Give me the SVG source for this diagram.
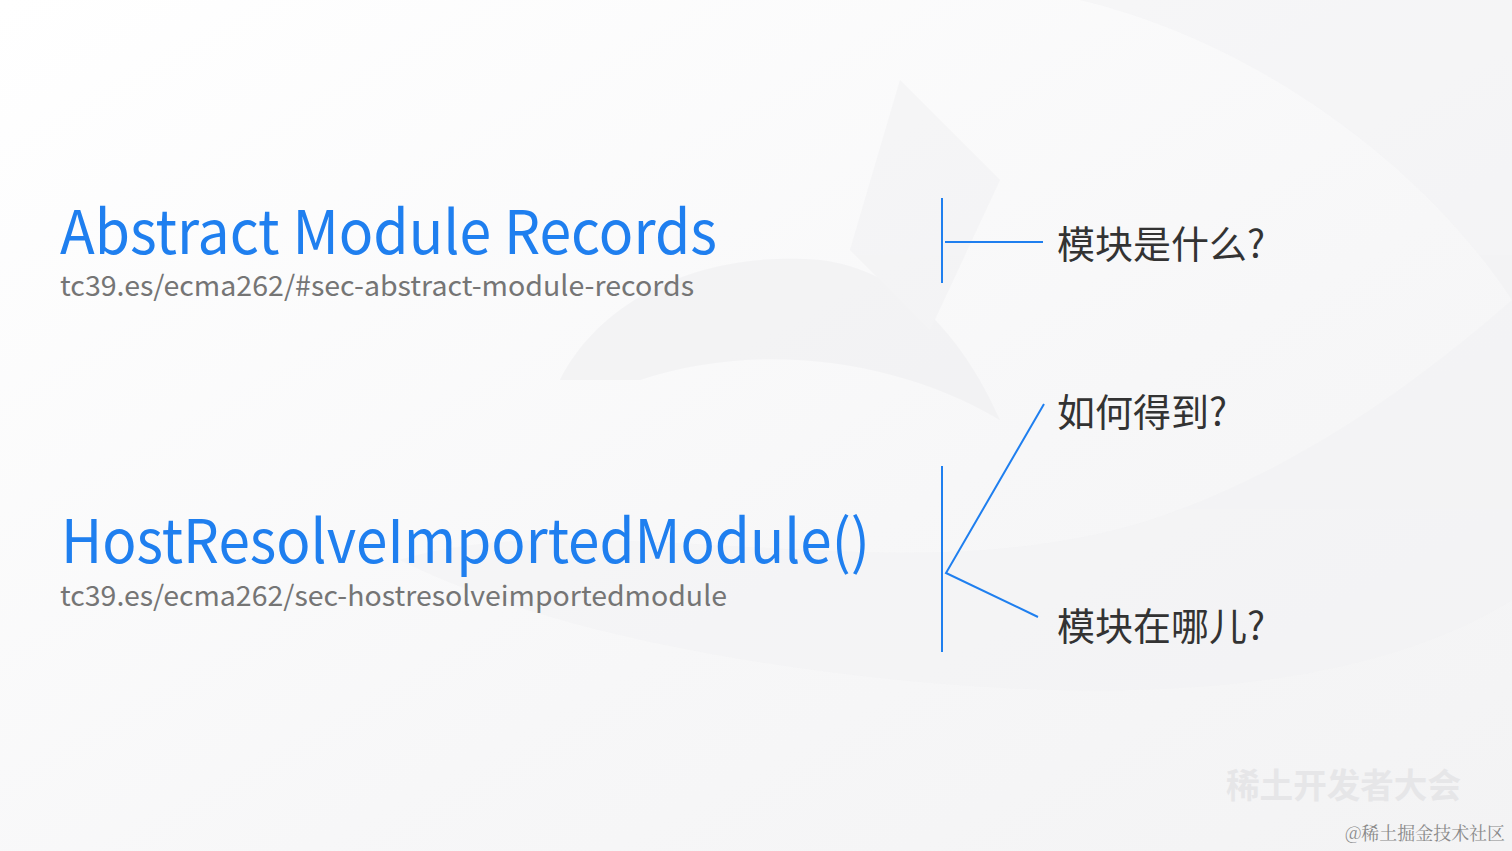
<svg xmlns="http://www.w3.org/2000/svg" width="1512" height="851" viewBox="0 0 1512 851">
<style>
.title{font-family:"Noto Sans CJK SC","Noto Sans",sans-serif;font-size:60px;fill:#1F7FEF}
.sub{font-family:"Noto Sans CJK SC","Noto Sans",sans-serif;font-size:28px;fill:#757575}
.q{font-family:"Noto Sans CJK SC",sans-serif;font-size:38px;fill:#333}
.ln{stroke:#1F7FEF;stroke-width:2;fill:none}
</style>
<defs>
<linearGradient id="bg" x1="0" y1="0" x2="1" y2="1">
<stop offset="0" stop-color="#ffffff"/>
<stop offset="0.6" stop-color="#f7f7f8"/>
<stop offset="1" stop-color="#f3f3f4"/>
</linearGradient>
</defs>
<rect width="1512" height="851" fill="url(#bg)"/>
<g id="background" opacity="0.5">
<path d="M560 380 C600 300 700 250 820 260 C900 270 960 330 1000 420 C900 360 760 340 640 380 Z" fill="#eeeef0"/>
<path d="M900 80 L1000 180 L930 330 L850 250 Z" fill="#f0f0f2"/>
<path d="M1080 0 C1250 40 1420 160 1512 300 L1512 0 Z" fill="#f1f1f3"/>
<path d="M400 560 C600 500 900 600 1150 520 C1300 470 1420 380 1512 300 L1512 600 C1350 700 1100 700 900 680 C700 660 520 620 400 560 Z" fill="#f2f2f4"/>
</g>
<g id="node-abstract">
<text class="title" x="60" y="254" textLength="657" lengthAdjust="spacingAndGlyphs">Abstract Module Records</text>
<text class="sub" x="60" y="296" textLength="634" lengthAdjust="spacingAndGlyphs">tc39.es/ecma262/#sec-abstract-module-records</text>
</g>
<g id="node-host">
<text class="title" x="61" y="563" textLength="809" lengthAdjust="spacingAndGlyphs">HostResolveImportedModule()</text>
<text class="sub" x="60" y="606" textLength="667" lengthAdjust="spacingAndGlyphs">tc39.es/ecma262/sec-hostresolveimportedmodule</text>
</g>
<g id="node-q1">
<text class="q" x="1057" y="258" textLength="208" lengthAdjust="spacingAndGlyphs">模块是什么?</text>
</g>
<g id="node-q2">
<text class="q" x="1057" y="426" textLength="170" lengthAdjust="spacingAndGlyphs">如何得到?</text>
</g>
<g id="node-q3">
<text class="q" x="1057" y="640" textLength="208" lengthAdjust="spacingAndGlyphs">模块在哪儿?</text>
</g>
<g id="connectors">
<line class="ln" x1="942" y1="198" x2="942" y2="283"/>
<line class="ln" x1="945" y1="242" x2="1043" y2="242"/>
<line class="ln" x1="942" y1="466" x2="942" y2="652"/>
<polyline class="ln" points="1044,404 946,573 1038,617"/>
</g>
<g id="watermark">
<text x="1226" y="798" font-family="Noto Sans CJK SC,sans-serif" font-size="34" font-weight="bold" fill="#e6e6e8" textLength="235" lengthAdjust="spacingAndGlyphs">稀土开发者大会</text>
<text x="1345" y="840" font-family="Noto Serif CJK SC,Noto Sans CJK SC,serif" font-size="18" fill="#8a8a8a" textLength="160" lengthAdjust="spacingAndGlyphs">@稀土掘金技术社区</text>
</g>
</svg>
